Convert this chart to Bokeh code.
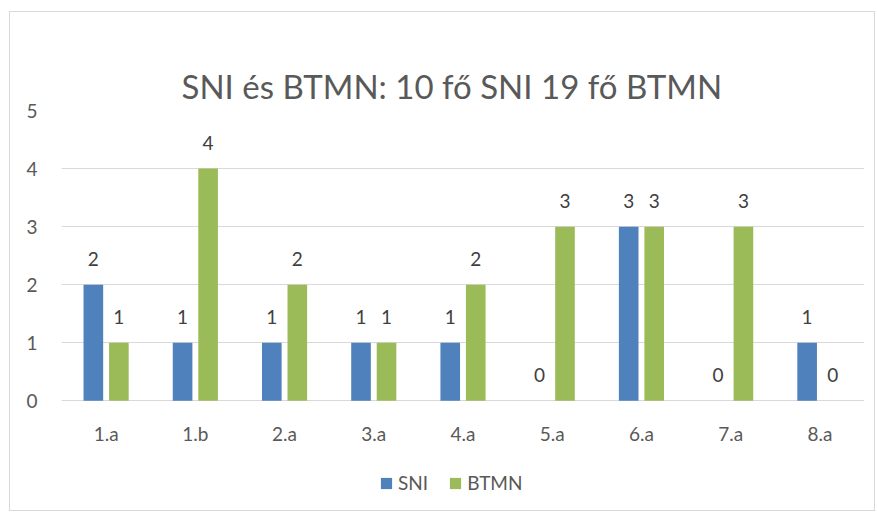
from bokeh.plotting import figure
from bokeh.models import ColumnDataSource, FactorRange, Legend, LegendItem, Range1d, FixedTicker, Title
from bokeh.transform import dodge
from bokeh.core.properties import value
from bokeh.embed import file_html
from bokeh.resources import INLINE

categories = ["1.a", "1.b", "2.a", "3.a", "4.a", "5.a", "6.a", "7.a", "8.a"]
sni = [2, 1, 1, 1, 1, 0, 3, 0, 1]
btmn = [1, 4, 2, 1, 2, 3, 3, 3, 0]
series_names = ["SNI", "BTMN"]
title_text = "SNI és BTMN: 10 fő SNI 19 fő BTMN"
y_ticks = [0, 1, 2, 3, 4, 5]

FONT = "Lato"
BLUE = "#4F81BD"
GREEN = "#9BBB59"
GRID = "#d9d9d9"
TXT = "#595959"
LBL = "#404040"

src = ColumnDataSource(dict(
    cat=categories,
    sni=sni,
    btmn=btmn,
    zero=[0] * len(categories),
    sni_lbl=[str(v) for v in sni],
    btmn_lbl=[str(v) for v in btmn],
))

# the frame extends below zero so that the category labels and legend sit inside it
p = figure(
    x_range=FactorRange(*categories, range_padding=0.0),
    y_range=Range1d(-1.82, 5),
    width=866, height=500,
    x_axis_location=None,
    output_backend="svg", toolbar_location=None,
    min_border_left=51, min_border_right=12, min_border_top=98, min_border_bottom=6,
)
p.margin = (11, 0, 0, 9)
p.styles = {"border": f"1px solid {GRID}", "box-sizing": "border-box"}
p.outline_line_color = None
p.background_fill_color = "white"
p.border_fill_color = "white"

# a transparent spacer next to the frame, then the title above it
p.add_layout(Title(text=".", text_font_size="2px", text_color="white", text_alpha=0,
                   standoff=28), "above")
p.add_layout(Title(text=title_text, text_font=FONT, text_font_size="33px",
                   text_font_style="normal", text_color=TXT, align="left",
                   offset=120, standoff=10), "above")

off = 0.143
w = 0.22
r1 = p.vbar(x=dodge("cat", -off, range=p.x_range), top="sni", width=w, source=src,
            fill_color=BLUE, line_color=None)
r2 = p.vbar(x=dodge("cat", off, range=p.x_range), top="btmn", width=w, source=src,
            fill_color=GREEN, line_color=None)

for col, lbl, o in (("sni", "sni_lbl", -off), ("btmn", "btmn_lbl", off)):
    p.text(x=dodge("cat", o, range=p.x_range), y=col, text=lbl, source=src,
           text_font=value(FONT), text_font_size="19px", text_color=LBL,
           text_align="center", text_baseline="middle", y_offset=-26)

# category axis labels
p.text(x="cat", y="zero", text="cat", source=src,
       text_font=value(FONT), text_font_size="19px", text_color=TXT,
       text_align="center", text_baseline="middle", y_offset=33)

p.xgrid.grid_line_color = None
p.ygrid.grid_line_color = GRID
p.ygrid.grid_line_width = 1
p.yaxis.ticker = FixedTicker(ticks=y_ticks)
p.yaxis.axis_line_color = None
p.yaxis.major_tick_line_color = None
p.yaxis.minor_tick_line_color = None
p.yaxis.major_tick_out = 0
p.yaxis.major_tick_in = 0
p.yaxis.major_label_standoff = 24
p.yaxis.major_label_text_font = FONT
p.yaxis.major_label_text_font_size = "19px"
p.yaxis.major_label_text_color = TXT

legend = Legend(items=[LegendItem(label=series_names[0], renderers=[r1]),
                       LegendItem(label=series_names[1], renderers=[r2])],
                orientation="horizontal", location=(318, 12))
legend.glyph_width = 14
legend.glyph_height = 14
legend.label_standoff = 5
legend.spacing = 20
legend.padding = 0
legend.margin = 0
legend.border_line_color = None
legend.background_fill_alpha = 0
legend.label_text_font = FONT
legend.label_text_font_size = "19px"
legend.label_text_color = TXT
p.add_layout(legend, "center")

open("out.html", "w").write(file_html(p, INLINE))
